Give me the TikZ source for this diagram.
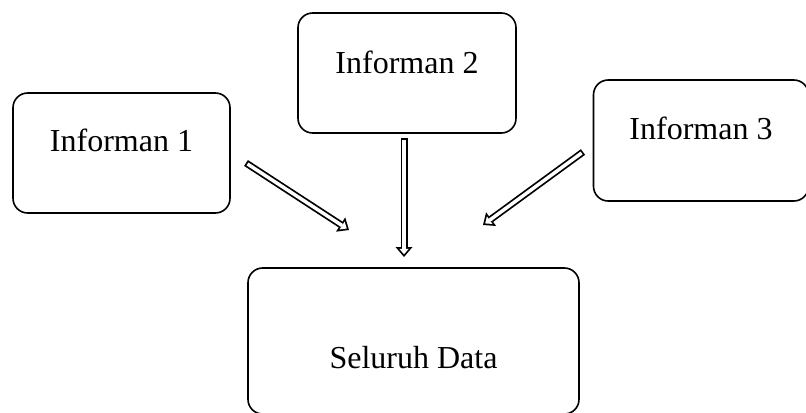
\documentclass[tikz,border=0pt]{standalone}
\usepackage{fontspec}
\setmainfont{Liberation Serif}
\usetikzlibrary{arrows.meta}

\tikzset{
	infobox/.style={draw, line width=1.2pt, rounded corners=11pt, inner sep=0pt, font=\fontsize{24}{29}\selectfont},
	flowout/.style={line width=5.25pt, -{Triangle[length=7.5pt,width=12.75pt,line width=0pt]}},
	flowin/.style={draw=white, line width=2.6pt, shorten <=1.31pt, shorten >=2.03pt, -{Triangle[length=4.16pt,width=7.07pt,line width=0pt,fill=white]}}
}

\begin{document}
\begin{tikzpicture}[x=0.75pt,y=0.75pt,yscale=-1,xscale=1]
			\useasboundingbox (0,0) rectangle (806,412);
			\clip (0,0) rectangle (806,412);
			% kotak informan
			\node [infobox, minimum width=162.75pt, minimum height=90pt] (inf1) at (121.5,153) {\raisebox{9.75pt}[\height][\depth]{Informan 1}};
			\node [infobox, minimum width=163.5pt, minimum height=90pt] (inf2) at (407,73) {\raisebox{8.25pt}[\height][\depth]{Informan 2}};
			\node [infobox, minimum width=161.25pt, minimum height=90.75pt] (inf3) at (701,140.5) {\raisebox{9.4pt}[\height][\depth]{Informan 3}};
			\node [infobox, minimum width=248.25pt, minimum height=109.5pt] (data) at (413.5,341) {\raisebox{-12.4pt}[\height][\depth]{Seluruh Data}};
			% panah
			\coordinate (a1) at (246,163);
			\coordinate (b1) at (349,230);
			\coordinate (a2) at (404,138);
			\coordinate (b2) at (404,257);
			\coordinate (a3) at (583,152);
			\coordinate (b3) at (483,225);
			\foreach \s/\e in {a1/b1,a2/b2,a3/b3}{
				\draw [flowout] (\s) -- (\e);
				\draw [flowin] (\s) -- (\e);
			}
	\end{tikzpicture}
\end{document}
